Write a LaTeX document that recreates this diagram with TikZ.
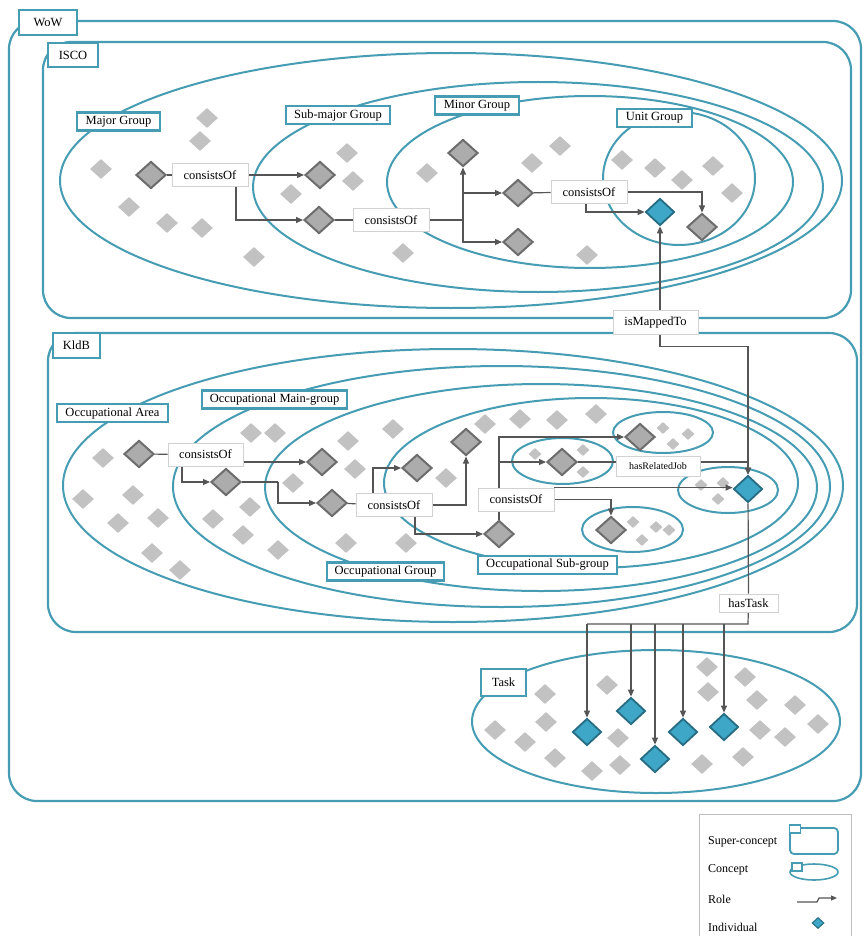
\documentclass[tikz,border=0pt]{standalone}
\usepackage{fontspec}
\setmainfont{Liberation Serif}
\usetikzlibrary{shapes.geometric,arrows.meta}

\definecolor{cborder}{RGB}{70,156,178}
\definecolor{cyanfill}{RGB}{62,166,198}
\definecolor{cyanedge}{RGB}{38,108,130}
\definecolor{indfill}{RGB}{172,172,172}
\definecolor{indedge}{RGB}{108,108,108}
\definecolor{lightg}{RGB}{194,194,194}
\definecolor{linkgray}{RGB}{85,85,85}
\definecolor{rolegray}{RGB}{210,210,210}
\definecolor{legendgray}{RGB}{190,190,190}

\begin{document}
\begin{tikzpicture}[x=1pt,y=-1pt,
  supercon/.style={draw=cborder,line width=2.2pt,rounded corners=28pt},
  concept/.style={draw=cborder,line width=2pt},
  lbl/.style={draw=cborder,line width=2.5pt,fill=white,inner sep=0pt,
    font=\fontsize{12.5}{14}\selectfont,minimum height=18pt},
  role/.style={draw=rolegray,line width=0.8pt,fill=white,inner sep=0pt,
    font=\fontsize{12.5}{14}\selectfont,minimum height=23pt,minimum width=76pt},
  link/.style={draw=linkgray,line width=1.2pt},
  arr/.style={link,-{Triangle[length=7pt,width=6pt]}},
  indiv/.style={diamond,draw=indedge,fill=indfill,line width=2pt,inner sep=0pt,
    minimum width=30pt,minimum height=27pt},
  target/.style={diamond,draw=cyanedge,fill=cyanfill,line width=1.8pt,inner sep=0pt,
    minimum width=29pt,minimum height=27pt},
  other/.style={diamond,fill=lightg,inner sep=0pt,minimum width=22pt,minimum height=20pt},
  tinyd/.style={other,minimum width=13pt,minimum height=12pt},
  legtxt/.style={anchor=west,inner sep=0pt,font=\fontsize{12}{14}\selectfont}
]
\useasboundingbox (0,0) rectangle (863,936);

% ---------- super-concepts ----------
\draw[supercon] (9,21) rectangle (861,801);
\draw[supercon] (43,42) rectangle (851,318);
\draw[supercon] (48,333) rectangle (857,632);

% ---------- ISCO concepts ----------
\draw[concept] (451,180.5) ellipse [x radius=391,y radius=127.5];
\draw[concept] (538,187) ellipse [x radius=285,y radius=105];
\draw[concept] (590,182) ellipse [x radius=203,y radius=86];
\draw[concept] (679,178.5) ellipse [x radius=76,y radius=66.5];

% ---------- KldB concepts ----------
\draw[concept] (453,485.5) ellipse [x radius=390,y radius=136.5];
\draw[concept] (501.5,486.5) ellipse [x radius=328.5,y radius=120.5];
\draw[concept] (541,487.5) ellipse [x radius=276,y radius=103.5];
\draw[concept] (591,483) ellipse [x radius=207,y radius=85];
\draw[concept] (663,432.5) ellipse [x radius=50,y radius=20.5];
\draw[concept] (562.5,461) ellipse [x radius=50.5,y radius=23];
\draw[concept] (728,490) ellipse [x radius=50,y radius=23];
\draw[concept] (632.5,529.5) ellipse [x radius=50.5,y radius=22.5];

% ---------- Task concept ----------
\draw[concept] (656,721.5) ellipse [x radius=184,y radius=71.5];

% ---------- concept labels ----------
\node[lbl,minimum width=58pt,minimum height=25pt] (lwow) at (48,22.5) {WoW};
\node[lbl,minimum width=50pt,minimum height=24pt] (lisco) at (73,55) {ISCO};
\node[lbl,minimum width=47pt,minimum height=25pt] (lkldb) at (76.5,345.5) {KldB};
\node[lbl,minimum width=83pt] (lmajor) at (118.5,121.5) {Major Group};
\node[lbl,minimum width=104pt] (lsubmajor) at (338,115) {Sub-major Group};
\node[lbl,minimum width=84pt] (lminor) at (477,105.5) {Minor Group};
\node[lbl,minimum width=75pt] (lunit) at (654.5,118) {Unit Group};
\node[lbl,minimum width=111pt] (larea) at (112.5,413) {Occupational Area};
\node[lbl,minimum width=145pt] (lmain) at (274.5,399.5) {Occupational Main-group};
\node[lbl,minimum width=117pt] (lgroup) at (385.5,571.5) {Occupational Group};
\node[lbl,minimum width=139pt] (lsub) at (547.5,565) {Occupational Sub-group};
\node[lbl,minimum width=45pt,minimum height=27pt] (ltask) at (503.5,682.5) {Task};

% ---------- other individuals ----------
\foreach \x/\y [count=\i] in {207/118,200/141,101/169,129/207,167/223,202/228,254/257,
  347/153,353/181,291/194,403/253,427/173,532/163,560/146,587/255,
  622/160,655/168,713/166,682/180,732/193}
  \node[other] (ia\i) at (\x,\y) {};
\foreach \x/\y [count=\i] in {103/458,83/499,133/495,118/523,158/518,152/553,180/570,
  251/433,275/433,293/483,213/519,250/507,243/535,278/550,348/441,355/469,
  346/543,406/543,393/429,446/478,485/424,520/419,557/420,596/414}
  \node[other] (ib\i) at (\x,\y) {};
\foreach \x/\y [count=\i] in {663/428,688/434,673/444,535/454,583/450,583/472,
  701/485,723/483,718/499,633/522,656/527,669/530,642/540}
  \node[tinyd] (ic\i) at (\x,\y) {};
\foreach \x/\y [count=\i] in {607/685,545/694,495/730,546/722,525/742,555/758,592/771,
  620/765,618/738,707/667,708/692,745/677,757/700,795/705,818/724,760/730,
  785/737,743/757,702/764}
  \node[other] (id\i) at (\x,\y) {};

% ---------- ISCO individuals and roles ----------
\node[indiv] (d1) at (151,175) {};
\node[indiv] (d2) at (320,175) {};
\node[indiv] (d3) at (319,220) {};
\node[indiv] (d4) at (463,153) {};
\node[indiv] (d5) at (518,193) {};
\node[indiv] (d6) at (518,242) {};
\node[indiv] (d7) at (702,227) {};
\node[target] (u1) at (660,212) {};

\coordinate (c1) at (210,175);
\coordinate (c2) at (391,220);
\coordinate (c3) at (589,192);
\coordinate (m1) at (655.5,322);
\node[role] (c1) at (c1) {consistsOf};
\node[role] (c2) at (c2) {consistsOf};
\node[role] (c3) at (c3) {consistsOf};
\node[role,minimum width=85pt,minimum height=24pt] (m1) at (m1) {isMappedTo};
\coordinate (j1) at (463,220);

% ---------- KldB individuals and roles ----------
\node[indiv] (e1) at (139,454) {};
\node[indiv] (e2) at (322,462) {};
\node[indiv] (e3) at (226,482) {};
\node[indiv] (e4) at (332,503) {};
\node[indiv] (e5) at (417,468) {};
\node[indiv] (e6) at (466,442) {};
\node[indiv] (e7) at (499,534) {};
\node[indiv] (e8) at (640,437) {};
\node[indiv] (e9) at (562,462) {};
\node[indiv] (e10) at (611,530) {};
\node[target] (u2) at (748,489) {};

\node[role,minimum width=75pt] (k1) at (205.5,454.5) {consistsOf};
\node[role] (k2) at (394,505) {consistsOf};
\node[role] (k3) at (516,499.5) {consistsOf};
\node[role,minimum width=84pt,minimum height=20pt,font=\fontsize{10}{12}\selectfont] (h1) at (658,466) {hasRelatedJob};
\node[role,minimum width=59pt,minimum height=18pt] (t1) at (748.5,603) {hasTask};
\coordinate (bend1) at (278,482);
\coordinate (tb) at (748,624);

% ---------- tasks ----------
\node[target] (f1) at (587,732) {};
\node[target] (f2) at (631,711) {};
\node[target] (f3) at (655,759) {};
\node[target] (f4) at (683,732) {};
\node[target] (f5) at (724,727) {};

% ---------- roles between individuals ----------
\draw[link] (d1) -- (c1);
\draw[arr] (c1) -- (d2);
\draw[arr] ([xshift=26pt]c1.south) |- (d3);
\draw[link] (d3) -- (c2);
\draw[link] (c2) -- (j1);
\draw[arr] (j1) -- (d4);
\draw[arr] (j1 |- d5) -- (d5);
\draw[arr] (j1) |- (d6);
\draw[link] (d5) -- (c3);
\draw[arr] (c3.east) -| (d7);
\draw[arr] ([xshift=-3pt]c3.south) |- (u1);
\draw[arr] (m1.north -| u1) -- (u1);

\draw[link] (e1) -- (k1);
\draw[arr] (k1.east |- e2) -- (e2);
\draw[arr] ([xshift=-23.5pt]k1.south) |- (e3);
\draw[link] (e3) -- (bend1);
\draw[arr] (bend1) |- (e4);
\draw[link] (e4) -- (k2);
\draw[arr] ([xshift=-21pt]k2.north) |- (e5);
\draw[arr] (k2.east) -| (e6);
\draw[arr] ([xshift=21pt]k2.south) |- (e7);
\draw[link] (e7) -- (e7 |- k3.south);
\draw[arr] (k3.north -| e7) |- (e8);
\draw[arr] (e7 |- e9) -- (e9);
\draw[link] (e9) -- (e9 -| h1.west);
\draw[arr] (h1.east |- e9) -| (u2);
\draw[arr] (k3.north east) -- (k3.north east -| u2.west);
\draw[arr] (k3.east) -| (e10);

\draw[arr] (m1.south -| u1) -- ++(0,12) -| (u2);

\draw[link] (u2) -- (t1);
\draw[link] (t1) -- (tb) -- (tb -| f1);
\foreach \f in {f1,f2,f3,f4,f5}
  \draw[arr] (tb -| \f) -- (\f);

% role boxes drawn again above their connectors
\node[role] at (c1) {consistsOf};
\node[role] at (c2) {consistsOf};
\node[role] at (c3) {consistsOf};
\node[role,minimum width=85pt,minimum height=24pt] at (m1) {isMappedTo};
\node[role,minimum width=75pt] at (k1) {consistsOf};
\node[role] at (k2) {consistsOf};
\node[role] at (k3) {consistsOf};
\node[role,minimum width=84pt,minimum height=20pt,font=\fontsize{10}{12}\selectfont] at (h1) {hasRelatedJob};
\node[role,minimum width=59pt,minimum height=18pt] at (t1) {hasTask};

% ---------- legend ----------
\node[draw=legendgray,line width=0.8pt,minimum width=152pt,minimum height=130pt,
  anchor=north west,inner sep=0pt] (legend) at (699,814) {};
\node[legtxt] (lgsup) at (708,842) {Super-concept};
\node[legtxt] (lgcon) at (708,870) {Concept};
\node[legtxt] (lgrole) at (708,899) {Role};
\node[legtxt] (lgind) at (708,927) {Individual};

\draw[draw=cborder,line width=1.8pt,rounded corners=4pt] (790,828) rectangle (838,854);
\node[draw=cborder,line width=1.6pt,fill=white,minimum width=11pt,minimum height=8pt,inner sep=0pt] (lgbox1) at (795,829) {};
\draw[concept,line width=1.6pt] (814,872) ellipse [x radius=24,y radius=8];
\node[draw=cborder,line width=1.6pt,fill=white,minimum width=10pt,minimum height=8pt,inner sep=0pt] (lgbox2) at (797,867) {};
\coordinate (rl0) at (797,902);
\coordinate (rl1) at (817,902);
\coordinate (rl2) at (819,898);
\coordinate (rl3) at (837,898);
\draw[link,-{Triangle[length=6pt,width=5pt]}] (rl0) -- (rl1) -- (rl2) -- (rl3);
\node[target,minimum width=12pt,minimum height=11pt,line width=1pt] (lgdia) at (818,923) {};
\end{tikzpicture}
\end{document}
